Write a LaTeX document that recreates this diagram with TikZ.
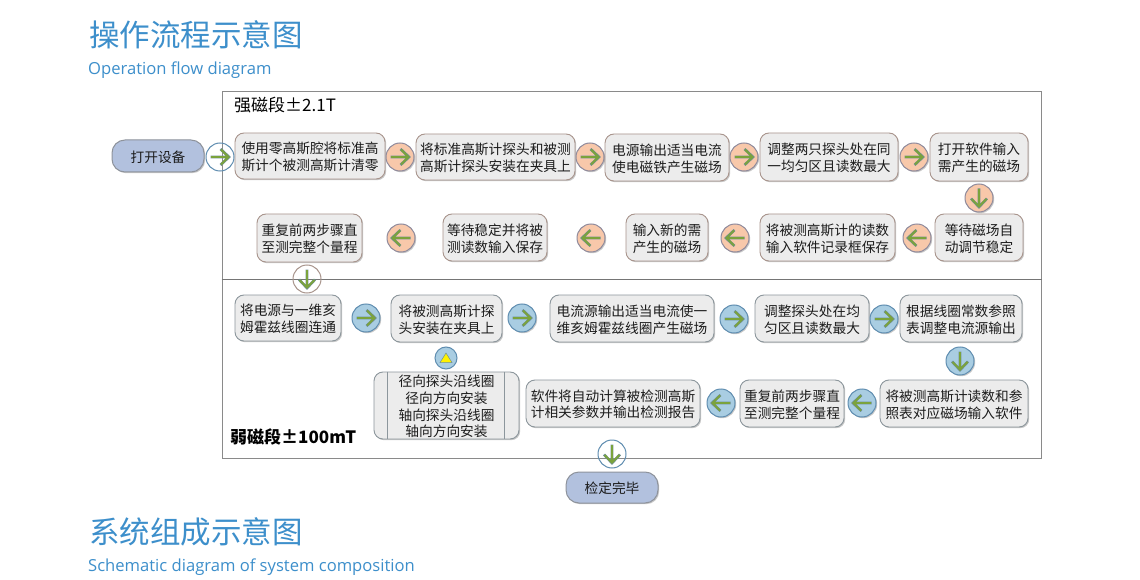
\documentclass[tikz,border=0pt]{standalone}
\usepackage{fontspec}
\setmainfont{Noto Sans CJK SC}
\newfontfamily\latinfont{Open Sans}
\usetikzlibrary{shadows,calc}
\definecolor{titleblue}{HTML}{3D8FCB}
\definecolor{boxfill}{HTML}{ECECEC}
\definecolor{warmline}{HTML}{A8948C}
\definecolor{coolline}{HTML}{8C969C}
\definecolor{salmon}{HTML}{F8C8AA}
\definecolor{skyfill}{HTML}{A9CDE2}
\definecolor{pillfill}{HTML}{B2C1DE}
\definecolor{pillline}{HTML}{8E939C}
\definecolor{ringline}{HTML}{5F8DB0}
\definecolor{warmring}{HTML}{8F8A9C}
\definecolor{arrowgreen}{HTML}{7BA33C}
\definecolor{arrowedge}{HTML}{6F8F98}
\definecolor{frameline}{HTML}{8A8A8A}
\definecolor{inktext}{HTML}{1C1C1C}
\tikzset{
  softshadow/.style={drop shadow={shadow xshift=1.2pt,shadow yshift=-1.2pt,opacity=.22,fill=black}},
  flowbox/.style={rounded corners=9pt,fill=boxfill,draw,line width=.9pt,align=center,inner sep=0pt,
    font=\fontsize{13.7}{16.8}\selectfont,text=inktext,softshadow},
  warmbox/.style={flowbox,draw=warmline},
  coolbox/.style={flowbox,draw=coolline},
  pill/.style={rounded corners=13pt,fill=pillfill,draw=pillline,line width=1pt,inner sep=0pt,
    font=\fontsize{13.7}{16}\selectfont,text=inktext,softshadow},
  ring/.style={circle,minimum size=28pt,inner sep=0pt,line width=1pt},
  warmdot/.style={ring,fill=salmon,draw=warmring,softshadow},
  colddot/.style={ring,fill=skyfill,draw=ringline,softshadow},
  openwarm/.style={ring,draw=warmline},
  opencold/.style={ring,draw=ringline},
  headline/.style={anchor=west,inner sep=0pt,text=titleblue,font=\fontsize{30.5}{32}\selectfont},
  subline/.style={anchor=west,inner sep=0pt,text=titleblue,font=\latinfont\fontsize{16.6}{18}\selectfont},
  zonelabel/.style={anchor=west,inner sep=0pt,text=black}
}
\newcommand{\pbx}[7]{\node[#1,minimum width={(#5-#3)*1pt},minimum height={(#6-#4)*1pt}] (#2) at ({(#3+#5)/2},{(#4+#6)/2}) {\rule{0pt}{13.4pt}#7};}
\newcommand{\fdot}[5]{\node[#1] (#2) at (#3,#4) {};
  \begin{scope}[shift={(#2.center)},rotate=#5,line cap=butt,line join=miter]
    \draw[arrowedge,line width=2.7pt] (-9.5,0) -- (8.5,0) (0.5,-8) -- (9,0) -- (0.5,8);
    \draw[arrowgreen,line width=1.9pt] (-9,0) -- (8.5,0) (1,-7.5) -- (8.5,0) -- (1,7.5);
  \end{scope}}
\begin{document}
\begin{tikzpicture}[x=1pt,y=-1pt]
\useasboundingbox[fill=white] (0,0) rectangle (1140,580);
% titles
\node[headline] (t1) at (89,35) {操作流程示意图};
\node[subline] (s1) at (88,70) {Operation flow diagram};
\node[headline] (t2) at (89,532) {系统组成示意图};
\node[subline] (s2) at (88,567) {Schematic diagram of system composition};
% frames
\node[draw=frameline,line width=1pt,inner sep=0pt,minimum width=819pt,minimum height=187pt] (upper) at (631.5,185.5) {};
\node[draw=frameline,line width=1pt,inner sep=0pt,minimum width=819pt,minimum height=179pt] (lower) at (631.5,368.5) {};
\draw[frameline!85!black,line width=1.4pt] (upper.south west) -- (upper.south east);
\node[zonelabel,font=\fontsize{17}{18}\selectfont] (zone1) at (234,105) {强磁段±2.1T};
\node[zonelabel,font=\bfseries\fontsize{17}{18}\selectfont] (zone2) at (230,437) {弱磁段±100mT};
% terminals
\pbx{pill}{start}{112}{140}{204}{172}{打开设备}
\pbx{pill}{finish}{566}{472}{658}{503}{检定完毕}
% upper, row 1
\pbx{warmbox}{a1}{235}{133}{385}{179}{使用零高斯腔将标准高\\斯计个被测高斯计清零}
\pbx{warmbox}{a2}{416}{134}{575}{180}{将标准高斯计探头和被测\\高斯计探头安装在夹具上}
\pbx{warmbox}{a3}{605}{134}{729}{181}{电源输出适当电流\\使电磁铁产生磁场}
\pbx{warmbox}{a4}{760}{133}{898}{181}{调整两只探头处在同\\一均匀区且读数最大}
\pbx{warmbox}{a5}{930}{133}{1028}{181}{打开软件输入\\需产生的磁场}
% upper, row 2
\pbx{warmbox}{b1}{935}{214}{1023}{261}{等待磁场自\\动调节稳定}
\pbx{warmbox}{b2}{760}{214}{895}{261}{将被测高斯计的读数\\输入软件记录框保存}
\pbx{warmbox}{b3}{626}{214}{708}{261}{输入新的需\\产生的磁场}
\pbx{warmbox}{b4}{443}{214}{547}{261}{等待稳定并将被\\测读数输入保存}
\pbx{warmbox}{b5}{257}{214}{362}{262}{重复前两步骤直\\至测完整个量程}
% lower, row 1
\pbx{coolbox}{c1}{235}{295}{341}{341}{将电源与一维亥\\姆霍兹线圈连通}
\pbx{coolbox}{c2}{391}{295}{502}{342}{将被测高斯计探\\头安装在夹具上}
\pbx{coolbox}{c3}{550}{295}{714}{342}{电流源输出适当电流使一\\维亥姆霍兹线圈产生磁场}
\pbx{coolbox}{c4}{755}{295}{869}{342}{调整探头处在均\\匀区且读数最大}
\pbx{coolbox}{c5}{900}{295}{1022}{342}{根据线圈常数参照\\表调整电流源输出}
% lower, row 2
\pbx{coolbox}{d1}{880}{380}{1028}{427}{将被测高斯计读数和参\\照表对应磁场输入软件}
\pbx{coolbox}{d2}{740}{380}{844}{427}{重复前两步骤直\\至测完整个量程}
\pbx{coolbox}{d3}{526}{380}{700}{427}{软件将自动计算被检测高斯\\计相关参数并输出检测报告}
\pbx{coolbox}{sub}{374}{372}{519}{439}{径向探头沿线圈\\径向方向安装\\轴向探头沿线圈\\轴向方向安装}
\draw[coolline,line width=1pt] ([xshift=14pt]sub.north west) -- ([xshift=14pt]sub.south west);
\draw[coolline,line width=1pt] ([xshift=-15pt]sub.north east) -- ([xshift=-15pt]sub.south east);
% round arrows
\fdot{opencold}{o1}{220}{157}{0}
\fdot{warmdot}{o2}{400}{157}{0}
\fdot{warmdot}{o3}{590}{157}{0}
\fdot{warmdot}{o4}{744}{157}{0}
\fdot{warmdot}{o5}{914}{157}{0}
\fdot{warmdot}{o6}{979}{198}{-90}
\fdot{warmdot}{o7}{917}{238}{180}
\fdot{warmdot}{o8}{735}{238}{180}
\fdot{warmdot}{o9}{591}{238}{180}
\fdot{warmdot}{o10}{401}{238}{180}
\fdot{openwarm}{o11}{307}{279}{-90}
\fdot{colddot}{p1}{366}{318}{0}
\fdot{colddot}{p2}{522}{318}{0}
\fdot{colddot}{p3}{734}{319}{0}
\fdot{colddot}{p4}{884}{319}{0}
\fdot{colddot}{p5}{960}{361}{-90}
\fdot{colddot}{p6}{862}{403}{180}
\fdot{colddot}{p7}{721}{403}{180}
\fdot{opencold}{p8}{612}{454}{-90}
\node[circle,minimum size=22pt,inner sep=0pt,fill=skyfill,draw=ringline,line width=1pt] (up) at (446,358) {};
\fill[yellow,draw=arrowedge,line width=.5pt] ($(up.center)+(-6,4.5)$) -- ($(up.center)+(6,4.5)$) -- ($(up.center)+(0,-5)$) -- cycle;
\end{tikzpicture}
\end{document}
